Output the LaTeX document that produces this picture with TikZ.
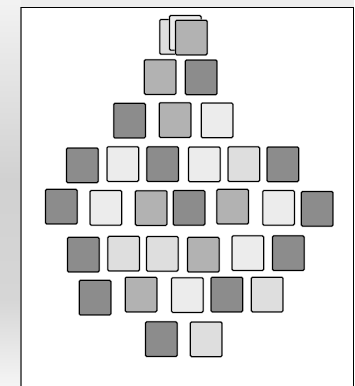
\documentclass[tikz,border=0pt]{standalone}
\begin{document}
\begin{tikzpicture}[x=1pt,y=-1pt,
  box/.style={draw=black, line width=1pt, rounded corners=1.2pt, inner sep=0pt,
    minimum width=31.5pt, minimum height=34.5pt,
    preaction={draw=black!35, line width=2pt}},
  dk/.style={box, fill=black!45},
  md/.style={box, fill=black!30},
  lt/.style={box, fill=black!13},
  vl/.style={box, fill=black!7.5}]
\useasboundingbox (0,0) rectangle (354,386);
% backdrop
\fill[black!7] (0,0) rectangle (354,7);
\shade[top color=black!5, bottom color=black!18] (0,0) rectangle (21,180);
\shade[top color=black!18, bottom color=black!16] (0,180) rectangle (21,300);
\shade[top color=black!16, bottom color=black!4] (0,300) rectangle (21,386);
\fill[white] (21,7) rectangle (353,386);
\draw[black!60, line width=1.6pt] (21,7) -- (21,386);
\draw[black, line width=1pt] (20.5,7) -- (353,7) -- (353,386);
% top stack
\node[lt] (s1) at (175.5,36.8) {};
\node[vl] (s2) at (185.3,32.9) {};
\node[md] (s3) at (191.3,37.5) {};
% row 2
\node[md] (r2a) at (160.2,77) {};
\node[dk] (r2b) at (201.2,77.3) {};
% row 3
\node[dk] (r3a) at (129.5,120.7) {};
\node[md] (r3b) at (175,120) {};
\node[vl] (r3c) at (217,120.3) {};
% row 4
\node[dk] (r4a) at (82.3,165.3) {};
\node[vl] (r4b) at (122.8,164) {};
\node[dk] (r4c) at (162.7,164.2) {};
\node[vl] (r4d) at (204.3,164.3) {};
\node[lt] (r4e) at (243.8,164.2) {};
\node[dk] (r4f) at (282.8,164.3) {};
% row 5
\node[dk] (r5a) at (61.3,206.7) {};
\node[vl] (r5b) at (105.8,207.8) {};
\node[md] (r5c) at (151.2,208) {};
\node[dk] (r5d) at (189,207.8) {};
\node[md] (r5e) at (232.7,206.7) {};
\node[vl] (r5f) at (278.5,207.8) {};
\node[dk] (r5g) at (317.2,208.8) {};
% row 6
\node[dk] (r6a) at (83.3,254.7) {};
\node[lt] (r6b) at (123.7,253.7) {};
\node[lt] (r6c) at (162.3,253.8) {};
\node[md] (r6d) at (203.3,254.7) {};
\node[vl] (r6e) at (247.8,253.2) {};
\node[dk] (r6f) at (288.3,253.2) {};
% row 7
\node[dk] (r7a) at (95,297.7) {};
\node[md] (r7b) at (141,294.5) {};
\node[vl] (r7c) at (187.3,295) {};
\node[dk] (r7d) at (226.8,294.5) {};
\node[lt] (r7e) at (267.2,294.5) {};
% row 8
\node[dk] (r8a) at (161.3,339.2) {};
\node[lt] (r8b) at (206.2,339.3) {};
\end{tikzpicture}
\end{document}
